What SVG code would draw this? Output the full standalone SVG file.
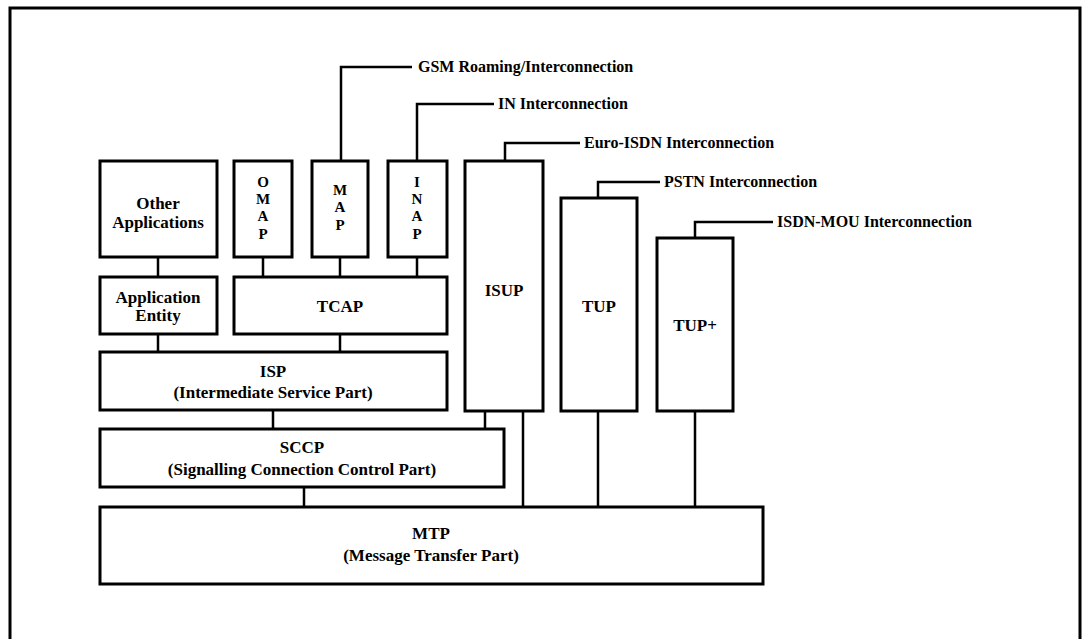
<svg xmlns="http://www.w3.org/2000/svg" width="1085" height="639" viewBox="0 0 1085 639">
<style>
.box{fill:#fff;stroke:#000;stroke-width:3}
.ln{fill:none;stroke:#000;stroke-width:2.5}
text{font-family:"Liberation Serif","Times New Roman",serif;font-weight:bold;fill:#000}
.c{text-anchor:middle;font-size:17px}
.v{text-anchor:middle;font-size:15px}
.lbl{font-size:16px}
</style>
<rect width="1085" height="639" fill="#fff"/>
<path d="M10,639 V8 H1080 V639" fill="none" stroke="#000" stroke-width="3"/>
<g id="connectors">
<path class="ln" d="M341,161 V67 H412"/>
<path class="ln" d="M417,161 V104 H494"/>
<path class="ln" d="M505,161 V143 H580"/>
<path class="ln" d="M598,198 V182 H660"/>
<path class="ln" d="M695,238 V222 H773"/>
<path class="ln" d="M158,257 V277 M263,257 V277 M340,257 V277 M417,257 V277"/>
<path class="ln" d="M158,334 V352 M340,334 V352"/>
<path class="ln" d="M273,410 V429 M485,411 V429"/>
<path class="ln" d="M304,487 V507 M523,411 V507 M598,411 V507 M695,411 V507"/>
</g>
<g id="labels">
<text class="lbl" x="418" y="72">GSM Roaming/Interconnection</text>
<text class="lbl" x="498" y="109">IN Interconnection</text>
<text class="lbl" x="584" y="148">Euro-ISDN Interconnection</text>
<text class="lbl" x="664" y="187">PSTN Interconnection</text>
<text class="lbl" x="777" y="227">ISDN-MOU Interconnection</text>
</g>
<g id="other-applications"><rect class="box" x="100" y="161" width="117" height="96"/><text class="c" x="158" y="209">Other</text><text class="c" x="158" y="228">Applications</text></g>
<g id="omap"><rect class="box" x="234" y="161" width="58" height="96"/><text class="v" x="263" y="187">O</text><text class="v" x="263" y="204">M</text><text class="v" x="263" y="221">A</text><text class="v" x="263" y="239">P</text></g>
<g id="map"><rect class="box" x="312" y="161" width="56" height="96"/><text class="v" x="340" y="195">M</text><text class="v" x="340" y="212">A</text><text class="v" x="340" y="230">P</text></g>
<g id="inap"><rect class="box" x="388" y="161" width="59" height="96"/><text class="v" x="417" y="187">I</text><text class="v" x="417" y="204">N</text><text class="v" x="417" y="221">A</text><text class="v" x="417" y="239">P</text></g>
<g id="isup"><rect class="box" x="465" y="161" width="78" height="250"/><text class="c" x="504" y="296">ISUP</text></g>
<g id="tup"><rect class="box" x="561" y="198" width="76" height="213"/><text class="c" x="599" y="312">TUP</text></g>
<g id="tupplus"><rect class="box" x="657" y="238" width="76" height="173"/><text class="c" x="695" y="331">TUP+</text></g>
<g id="application-entity"><rect class="box" x="100" y="277" width="117" height="57"/><text class="c" x="158" y="303">Application</text><text class="c" x="158" y="321">Entity</text></g>
<g id="tcap"><rect class="box" x="234" y="277" width="213" height="57"/><text class="c" x="340" y="312">TCAP</text></g>
<g id="isp"><rect class="box" x="100" y="352" width="347" height="58"/><text class="c" x="273" y="377">ISP</text><text class="c" x="273" y="398">(Intermediate Service Part)</text></g>
<g id="sccp"><rect class="box" x="100" y="429" width="404" height="58"/><text class="c" x="302" y="453">SCCP</text><text class="c" x="302" y="475">(Signalling Connection Control Part)</text></g>
<g id="mtp"><rect class="box" x="100" y="507" width="663" height="77"/><text class="c" x="431" y="539">MTP</text><text class="c" x="431" y="561">(Message Transfer Part)</text></g>
</svg>
